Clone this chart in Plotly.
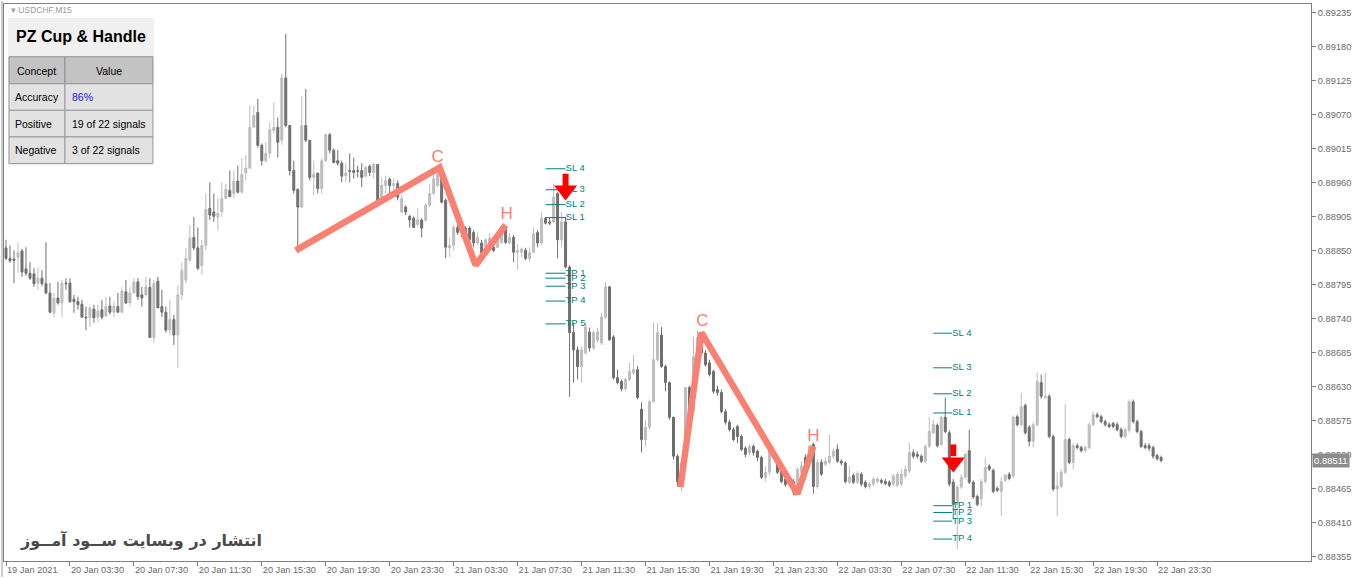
import plotly.graph_objects as go

# ---------------- data (USDCHF, M15) ----------------
open_ = [0.88855,0.88838,0.88837,0.88840,0.88850,0.88821,0.88814,0.88813,0.88798,0.88806,
0.88797,0.88782,0.88750,0.88774,0.88766,0.88798,0.88798,0.88772,0.88768,0.88764,
0.88743,0.88742,0.88756,0.88743,0.88755,0.88745,0.88761,0.88751,0.88760,0.88751,
0.88784,0.88766,0.88782,0.88800,0.88779,0.88779,0.88791,0.88710,0.88801,0.88760,
0.88751,0.88722,0.88739,0.88714,0.88779,0.88803,0.88835,0.88872,0.88855,0.88826,
0.88859,0.88919,0.88913,0.88905,0.88913,0.88935,0.88948,0.88943,0.88963,0.88945,
0.88976,0.88984,0.89050,0.89074,0.89021,0.88996,0.89008,0.89045,0.89050,0.89029,
0.89130,0.89053,0.88980,0.88950,0.88921,0.89053,0.89029,0.88969,0.88976,0.88951,
0.88996,0.89038,0.89013,0.88996,0.88992,0.88972,0.88980,0.88980,0.88980,0.88980,
0.88971,0.88987,0.88977,0.88990,0.88932,0.88956,0.88966,0.88956,0.88959,0.88913,
0.88921,0.88906,0.88903,0.88893,0.88900,0.88900,0.88924,0.88943,0.88956,0.88976,
0.88932,0.88855,0.88859,0.88888,0.88887,0.88887,0.88887,0.88880,0.88863,0.88863,
0.88847,0.88856,0.88856,0.88856,0.88864,0.88885,0.88863,0.88872,0.88848,0.88848,
0.88851,0.88838,0.88848,0.88880,0.88863,0.88903,0.88897,0.88897,0.88943,0.88868,
0.88897,0.88824,0.88718,0.88690,0.88663,0.88685,0.88719,0.88693,0.88706,0.88701,
0.88743,0.88792,0.88711,0.88645,0.88639,0.88627,0.88642,0.88653,0.88658,0.88594,
0.88545,0.88565,0.88606,0.88674,0.88714,0.88663,0.88637,0.88581,0.88518,0.88477,
0.88508,0.88629,0.88590,0.88677,0.88706,0.88685,0.88669,0.88655,0.88626,0.88621,
0.88590,0.88573,0.88561,0.88566,0.88550,0.88531,0.88524,0.88534,0.88526,0.88516,
0.88484,0.88492,0.88526,0.88518,0.88494,0.88481,0.88476,0.88477,0.88469,0.88492,
0.88516,0.88508,0.88537,0.88469,0.88508,0.88505,0.88508,0.88518,0.88529,0.88510,
0.88507,0.88476,0.88487,0.88476,0.88489,0.88476,0.88469,0.88473,0.88477,0.88479,
0.88477,0.88476,0.88473,0.88471,0.88473,0.88486,0.88494,0.88524,0.88521,0.88518,
0.88510,0.88534,0.88556,0.88568,0.88537,0.88581,0.88556,0.88476,0.88440,0.88468,
0.88484,0.88527,0.88476,0.88453,0.88449,0.88477,0.88502,0.88495,0.88466,0.88461,
0.88479,0.88489,0.88486,0.88582,0.88569,0.88600,0.88565,0.88542,0.88569,0.88637,
0.88613,0.88615,0.88550,0.88465,0.88469,0.88492,0.88545,0.88508,0.88535,0.88532,
0.88527,0.88532,0.88569,0.88585,0.88582,0.88574,0.88569,0.88571,0.88569,0.88561,
0.88550,0.88560,0.88606,0.88574,0.88558,0.88535,0.88535,0.88532,0.88519,0.88516]

high_ = [0.88868,0.88859,0.88851,0.88864,0.88853,0.88856,0.88832,0.88822,0.88824,0.88819,
0.88864,0.88798,0.88782,0.88800,0.88803,0.88806,0.88806,0.88779,0.88776,0.88771,
0.88760,0.88760,0.88763,0.88763,0.88771,0.88776,0.88776,0.88768,0.88782,0.88792,
0.88803,0.88792,0.88806,0.88806,0.88792,0.88808,0.88806,0.88803,0.88808,0.88787,
0.88760,0.88771,0.88747,0.88795,0.88832,0.88855,0.88892,0.88905,0.88888,0.88868,
0.88943,0.88961,0.88943,0.88935,0.88961,0.88959,0.88980,0.88980,0.88988,0.89000,
0.89005,0.89085,0.89085,0.89096,0.89024,0.89026,0.89058,0.89090,0.89066,0.89137,
0.89201,0.89053,0.88996,0.88950,0.89101,0.89112,0.89029,0.88996,0.88976,0.89000,
0.89040,0.89041,0.89016,0.89013,0.88996,0.88992,0.89008,0.89001,0.88988,0.88992,
0.88988,0.88990,0.88993,0.88990,0.88969,0.88972,0.88969,0.88967,0.88964,0.88940,
0.88924,0.88908,0.88906,0.88919,0.88903,0.88927,0.88959,0.88977,0.88985,0.88977,
0.88935,0.88872,0.88892,0.88895,0.88895,0.88890,0.88890,0.88884,0.88880,0.88868,
0.88871,0.88879,0.88861,0.88880,0.88892,0.88888,0.88879,0.88876,0.88862,0.88856,
0.88855,0.88856,0.88888,0.88884,0.88913,0.88905,0.88905,0.88959,0.88945,0.88913,
0.88905,0.88827,0.88734,0.88695,0.88695,0.88734,0.88726,0.88722,0.88726,0.88750,
0.88800,0.88793,0.88714,0.88658,0.88642,0.88645,0.88669,0.88682,0.88664,0.88605,
0.88577,0.88610,0.88735,0.88734,0.88727,0.88666,0.88639,0.88582,0.88521,0.88510,
0.88630,0.88632,0.88711,0.88722,0.88718,0.88690,0.88674,0.88658,0.88632,0.88626,
0.88594,0.88577,0.88565,0.88569,0.88553,0.88534,0.88537,0.88537,0.88529,0.88519,
0.88502,0.88529,0.88532,0.88521,0.88497,0.88484,0.88487,0.88481,0.88500,0.88510,
0.88521,0.88537,0.88540,0.88513,0.88513,0.88516,0.88553,0.88532,0.88537,0.88513,
0.88510,0.88502,0.88490,0.88494,0.88492,0.88479,0.88476,0.88484,0.88484,0.88482,
0.88481,0.88479,0.88489,0.88492,0.88497,0.88503,0.88540,0.88529,0.88526,0.88521,
0.88537,0.88582,0.88577,0.88571,0.88584,0.88613,0.88560,0.88481,0.88471,0.88489,
0.88524,0.88561,0.88479,0.88456,0.88481,0.88516,0.88505,0.88498,0.88469,0.88484,
0.88490,0.88492,0.88584,0.88585,0.88621,0.88603,0.88568,0.88573,0.88653,0.88650,
0.88653,0.88618,0.88553,0.88492,0.88497,0.88602,0.88548,0.88539,0.88539,0.88535,
0.88535,0.88573,0.88590,0.88589,0.88585,0.88577,0.88573,0.88574,0.88573,0.88565,
0.88565,0.88610,0.88610,0.88577,0.88561,0.88539,0.88539,0.88535,0.88522,0.88519]

low_ = [0.88835,0.88831,0.88798,0.88814,0.88808,0.88810,0.88803,0.88792,0.88787,0.88793,
0.88780,0.88750,0.88743,0.88763,0.88743,0.88787,0.88766,0.88750,0.88755,0.88742,
0.88722,0.88727,0.88734,0.88735,0.88739,0.88743,0.88747,0.88743,0.88750,0.88750,
0.88764,0.88760,0.88782,0.88771,0.88760,0.88776,0.88710,0.88701,0.88758,0.88743,
0.88718,0.88714,0.88698,0.88661,0.88771,0.88798,0.88832,0.88851,0.88819,0.88811,
0.88851,0.88900,0.88897,0.88884,0.88905,0.88935,0.88937,0.88935,0.88943,0.88943,
0.88964,0.88984,0.89050,0.89017,0.88988,0.88993,0.89000,0.89040,0.89001,0.89021,
0.89050,0.88972,0.88943,0.88848,0.88919,0.89026,0.88964,0.88940,0.88943,0.88943,
0.88993,0.89008,0.88992,0.88988,0.88961,0.88961,0.88961,0.88967,0.88969,0.88953,
0.88969,0.88971,0.88967,0.88929,0.88929,0.88943,0.88943,0.88948,0.88932,0.88911,
0.88908,0.88888,0.88887,0.88890,0.88872,0.88897,0.88921,0.88940,0.88953,0.88927,
0.88838,0.88840,0.88851,0.88876,0.88872,0.88871,0.88863,0.88856,0.88859,0.88843,
0.88843,0.88853,0.88848,0.88855,0.88861,0.88861,0.88861,0.88832,0.88819,0.88840,
0.88835,0.88832,0.88847,0.88856,0.88859,0.88893,0.88892,0.88895,0.88838,0.88856,
0.88822,0.88614,0.88637,0.88642,0.88637,0.88682,0.88687,0.88690,0.88701,0.88698,
0.88740,0.88705,0.88642,0.88634,0.88623,0.88623,0.88639,0.88650,0.88610,0.88524,
0.88534,0.88561,0.88605,0.88671,0.88661,0.88623,0.88577,0.88513,0.88469,0.88461,
0.88505,0.88587,0.88587,0.88674,0.88682,0.88663,0.88647,0.88619,0.88616,0.88587,
0.88569,0.88558,0.88542,0.88539,0.88526,0.88516,0.88519,0.88519,0.88510,0.88481,
0.88477,0.88487,0.88513,0.88489,0.88474,0.88469,0.88471,0.88455,0.88465,0.88487,
0.88482,0.88503,0.88457,0.88465,0.88486,0.88502,0.88505,0.88514,0.88507,0.88503,
0.88474,0.88473,0.88473,0.88473,0.88469,0.88466,0.88465,0.88469,0.88474,0.88473,
0.88471,0.88468,0.88469,0.88468,0.88469,0.88482,0.88490,0.88514,0.88514,0.88507,
0.88507,0.88531,0.88553,0.88532,0.88534,0.88555,0.88469,0.88416,0.88368,0.88465,
0.88481,0.88473,0.88449,0.88437,0.88437,0.88474,0.88494,0.88458,0.88460,0.88421,
0.88476,0.88479,0.88482,0.88566,0.88566,0.88553,0.88534,0.88532,0.88566,0.88611,
0.88610,0.88547,0.88461,0.88421,0.88466,0.88489,0.88505,0.88497,0.88529,0.88524,
0.88524,0.88529,0.88566,0.88579,0.88571,0.88566,0.88563,0.88563,0.88558,0.88547,
0.88547,0.88556,0.88571,0.88555,0.88531,0.88529,0.88526,0.88514,0.88511,0.88508]

close_ = [0.88838,0.88834,0.88835,0.88847,0.88816,0.88814,0.88806,0.88797,0.88806,0.88797,
0.88782,0.88751,0.88774,0.88766,0.88798,0.88797,0.88768,0.88768,0.88763,0.88743,
0.88742,0.88758,0.88742,0.88753,0.88743,0.88760,0.88751,0.88761,0.88751,0.88785,
0.88766,0.88782,0.88800,0.88776,0.88774,0.88792,0.88710,0.88797,0.88758,0.88751,
0.88722,0.88739,0.88714,0.88779,0.88819,0.88838,0.88871,0.88855,0.88822,0.88859,
0.88917,0.88908,0.88906,0.88911,0.88935,0.88950,0.88938,0.88963,0.88945,0.88974,
0.88984,0.89050,0.89069,0.89021,0.88996,0.89008,0.89046,0.89050,0.89026,0.89130,
0.89053,0.88980,0.88948,0.88921,0.89053,0.89029,0.88969,0.88974,0.88951,0.88996,
0.89038,0.89013,0.88993,0.88992,0.88971,0.88976,0.88979,0.88977,0.88979,0.88969,
0.88985,0.88977,0.88990,0.88932,0.88956,0.88964,0.88956,0.88959,0.88937,0.88935,
0.88913,0.88900,0.88888,0.88901,0.88887,0.88924,0.88943,0.88967,0.88977,0.88929,
0.88856,0.88859,0.88888,0.88880,0.88885,0.88876,0.88868,0.88863,0.88872,0.88847,
0.88868,0.88871,0.88851,0.88876,0.88887,0.88864,0.88872,0.88848,0.88851,0.88853,
0.88838,0.88847,0.88878,0.88863,0.88903,0.88895,0.88895,0.88937,0.88868,0.88897,
0.88824,0.88718,0.88690,0.88663,0.88690,0.88727,0.88693,0.88718,0.88719,0.88743,
0.88792,0.88706,0.88645,0.88637,0.88627,0.88642,0.88655,0.88658,0.88613,0.88545,
0.88565,0.88606,0.88674,0.88718,0.88663,0.88637,0.88581,0.88518,0.88477,0.88508,
0.88629,0.88590,0.88679,0.88710,0.88685,0.88666,0.88650,0.88623,0.88621,0.88590,
0.88573,0.88561,0.88545,0.88550,0.88529,0.88521,0.88534,0.88524,0.88516,0.88484,
0.88492,0.88526,0.88518,0.88492,0.88477,0.88472,0.88484,0.88460,0.88497,0.88502,
0.88486,0.88534,0.88469,0.88508,0.88489,0.88510,0.88518,0.88526,0.88510,0.88507,
0.88477,0.88484,0.88476,0.88490,0.88473,0.88469,0.88473,0.88481,0.88481,0.88476,
0.88474,0.88471,0.88486,0.88489,0.88489,0.88497,0.88524,0.88518,0.88518,0.88510,
0.88534,0.88558,0.88569,0.88535,0.88581,0.88558,0.88473,0.88440,0.88468,0.88484,
0.88521,0.88476,0.88452,0.88440,0.88477,0.88500,0.88497,0.88461,0.88463,0.88477,
0.88487,0.88482,0.88581,0.88569,0.88598,0.88556,0.88542,0.88569,0.88639,0.88615,
0.88615,0.88550,0.88465,0.88470,0.88492,0.88545,0.88508,0.88535,0.88532,0.88527,
0.88532,0.88569,0.88585,0.88582,0.88574,0.88569,0.88566,0.88566,0.88561,0.88550,
0.88561,0.88606,0.88574,0.88558,0.88534,0.88532,0.88531,0.88518,0.88514,0.88511]

date_tick_bars = [0, 16, 32, 48, 64, 80, 96, 112, 128, 144, 160, 176, 192, 208, 224, 240, 256, 272, 288]
date_labels = ["19 Jan 2021", "20 Jan 03:30", "20 Jan 07:30", "20 Jan 11:30", "20 Jan 15:30",
               "20 Jan 19:30", "20 Jan 23:30", "21 Jan 03:30", "21 Jan 07:30", "21 Jan 11:30",
               "21 Jan 15:30", "21 Jan 19:30", "21 Jan 23:30", "22 Jan 03:30", "22 Jan 07:30",
               "22 Jan 11:30", "22 Jan 15:30", "22 Jan 19:30", "22 Jan 23:30"]
price_ticks = [0.89235, 0.89180, 0.89125, 0.89070, 0.89015, 0.88960, 0.88905, 0.88850, 0.88795,
               0.88740, 0.88685, 0.88630, 0.88575, 0.88520, 0.88465, 0.88410, 0.88355]
last_price = 0.88511

# cup & handle patterns (bar position, price)
cup1_x = [72.5, 108.5, 117.5, 125]
cup1_y = [0.88851, 0.88985, 0.88827, 0.88892]
cup2_x = [168.75, 174, 198, 202]
cup2_y = [0.88468, 0.88718, 0.88457, 0.88534]
pat_text = ["C", "H", "C", "H"]
pat_x = [108, 125.25, 174.25, 202]
pat_y = [0.89001, 0.88908, 0.88735, 0.88550]

# SL / TP levels
lvl1_names = ["SL 4", "SL 3", "SL 2", "SL 1", "TP 1", "TP 2", "TP 3", "TP 4", "TP 5"]
lvl1_prices = [0.88983, 0.88949, 0.88925, 0.88904, 0.88814, 0.88806, 0.88793, 0.88769, 0.88732]
lvl1_span = [135, 140]
lvl2_names = ["SL 4", "SL 3", "SL 2", "SL 1", "TP 1", "TP 2", "TP 3", "TP 4"]
lvl2_prices = [0.88717, 0.88661, 0.88619, 0.88588, 0.88438, 0.88427, 0.88413, 0.88384]
lvl2_span = [232, 236.75]

# sell arrows
arrow_bar = [140, 237]
arrow_top = [0.88975, 0.88537]
arrow_neck = [0.88954, 0.88518]
arrow_head = [0.88948, 0.88508]

# info table
table_rows = [["Accuracy", "86%"], ["Positive", "19 of 22 signals"], ["Negative", "3 of 22 signals"]]

bars = list(range(len(open_)))

# ---------------- figure ----------------
W, H = 1360, 578
ML, MR, MT, MB = 3, 49, 3, 16
PW, PH = W - ML - MR, H - MT - MB


def px(xp):
    return (xp - ML) / PW


def py(yp):
    return (H - MB - yp) / PH


fig = go.Figure()

TEAL = "#008080"
# level lines
for names, prices, span in [(lvl1_names, lvl1_prices, lvl1_span), (lvl2_names, lvl2_prices, lvl2_span)]:
    lx, ly = [], []
    for p in prices:
        lx += [span[0], span[1], None]
        ly += [p, p, None]
    fig.add_trace(go.Scatter(x=lx, y=ly, mode="lines", line=dict(color=TEAL, width=1),
                             hoverinfo="skip", showlegend=False))
    fig.add_trace(go.Scatter(x=[span[1]] * len(prices), y=prices, mode="text", text=names,
                             textposition="middle right",
                             textfont=dict(family="Liberation Sans, Arial", size=9.5, color=TEAL),
                             hoverinfo="skip", showlegend=False))

# candles
fig.add_trace(go.Candlestick(
    x=bars, open=open_, high=high_, low=low_, close=close_,
    increasing=dict(line=dict(color="#bdbdbd", width=1), fillcolor="#bdbdbd"),
    decreasing=dict(line=dict(color="#6f6f6f", width=1), fillcolor="#6f6f6f"),
    whiskerwidth=0, showlegend=False, hoverinfo="skip"))

SALMON = "#fa8072"
for cx, cy in [(cup1_x, cup1_y), (cup2_x, cup2_y)]:
    fig.add_trace(go.Scatter(x=cx, y=cy, mode="lines", line=dict(color=SALMON, width=6.5),
                             hoverinfo="skip", showlegend=False))
fig.add_trace(go.Scatter(x=pat_x, y=pat_y, mode="text", text=pat_text, textposition="middle center",
                         textfont=dict(family="Liberation Sans, Arial", size=17, color=SALMON),
                         hoverinfo="skip", showlegend=False))

# arrows
for b, t, n, h in zip(arrow_bar, arrow_top, arrow_neck, arrow_head):
    fig.add_trace(go.Scatter(x=[b, b], y=[t, n], mode="lines", line=dict(color="#ff0000", width=6),
                             hoverinfo="skip", showlegend=False))
fig.add_trace(go.Scatter(x=arrow_bar, y=arrow_head, mode="markers",
                         marker=dict(symbol="triangle-down", size=20, color="#ff0000"),
                         hoverinfo="skip", showlegend=False))

# ---------- table & texts (layout decoration) ----------
shapes = []
annotations = []
FONT = "Liberation Sans, Arial"


def rect(x0, y0, x1, y1, fill, line=None):
    shapes.append(dict(type="rect", xref="paper", yref="paper", x0=px(x0), x1=px(x1), y0=py(y1), y1=py(y0),
                       fillcolor=fill, line=dict(color=line or fill, width=1 if line else 0), layer="above"))


def text(x, y, s, size=11, color="#000000", anchor="left", bold=False, family=FONT):
    annotations.append(dict(xref="paper", yref="paper", x=px(x), y=py(y), text=("<b>%s</b>" % s) if bold else s,
                            showarrow=False, xanchor=anchor, yanchor="middle",
                            font=dict(family=family, size=size, color=color)))


rect(7, 17, 153, 165, "#f0f0f0")
rect(8, 56, 64, 83, "#c3c3c3", "#8f8f8f")
rect(64, 56, 152, 83, "#c3c3c3", "#8f8f8f")
for i in range(3):
    y0 = 83 + i * 26.7
    rect(8, y0, 64, y0 + 26.7, "#e2e2e2", "#9a9a9a")
    rect(64, y0, 152, y0 + 26.7, "#e2e2e2", "#9a9a9a")
text(80, 36, "PZ Cup & Handle", size=16, anchor="center", bold=True)
text(36, 70, "Concept", size=10.5, anchor="center")
text(108, 70, "Value", size=10.5, anchor="center")
for i, (k, v) in enumerate(table_rows):
    yc = 96.5 + i * 26.7
    text(12, yc, k, size=10.5)
    text(69, yc, v, size=10.5, color="#2020d8" if i == 0 else "#000000")

text(8, 9, "\u25BE USDCHF,M15", size=8.5, color="#9a9a9a")
text(17, 541, "انتشار در وبسایت ســود آمــوز", size=16, color="#4a4a4a", bold=True, family="DejaVu Sans")

# current price box
annotations.append(dict(xref="paper", yref="y", x=1, y=last_price, text="0.88511", showarrow=False,
                        xanchor="left", yanchor="middle", xshift=1, bgcolor="#8c8c8c", borderpad=1,
                        font=dict(family=FONT, size=9.5, color="#ffffff")))

# left window border
shapes.append(dict(type="line", xref="paper", yref="paper", x0=px(1), x1=px(1), y0=py(578), y1=py(0),
                   line=dict(color="#9a9a9a", width=1)))

AXC = "#808080"
fig.update_layout(
    width=W, height=H, margin=dict(l=ML, r=MR, t=MT, b=MB),
    paper_bgcolor="#ffffff", plot_bgcolor="#ffffff",
    showlegend=False, shapes=shapes, annotations=annotations,
    xaxis=dict(range=[-0.5, 326.5], showgrid=False, zeroline=False, rangeslider=dict(visible=False),
               showline=True, mirror=True, linecolor=AXC, linewidth=1,
               tickmode="array", tickvals=date_tick_bars, ticktext=date_labels,
               ticks="outside", ticklen=4, tickcolor=AXC, ticklabelposition="outside right",
               tickfont=dict(family=FONT, size=9.2, color="#6a6a6a")),
    yaxis=dict(range=[0.883485, 0.892495], side="right", showgrid=False, zeroline=False,
               showline=True, mirror=True, linecolor=AXC, linewidth=1,
               tickmode="array", tickvals=price_ticks, ticktext=["%.5f" % v for v in price_ticks],
               ticks="outside", ticklen=4, tickcolor=AXC,
               tickfont=dict(family=FONT, size=9.3, color="#6a6a6a")),
)

fig.write_html("out.html", config={"displayModeBar": False},
               post_script="document.body.style.margin='0px';document.body.style.padding='0px';")
